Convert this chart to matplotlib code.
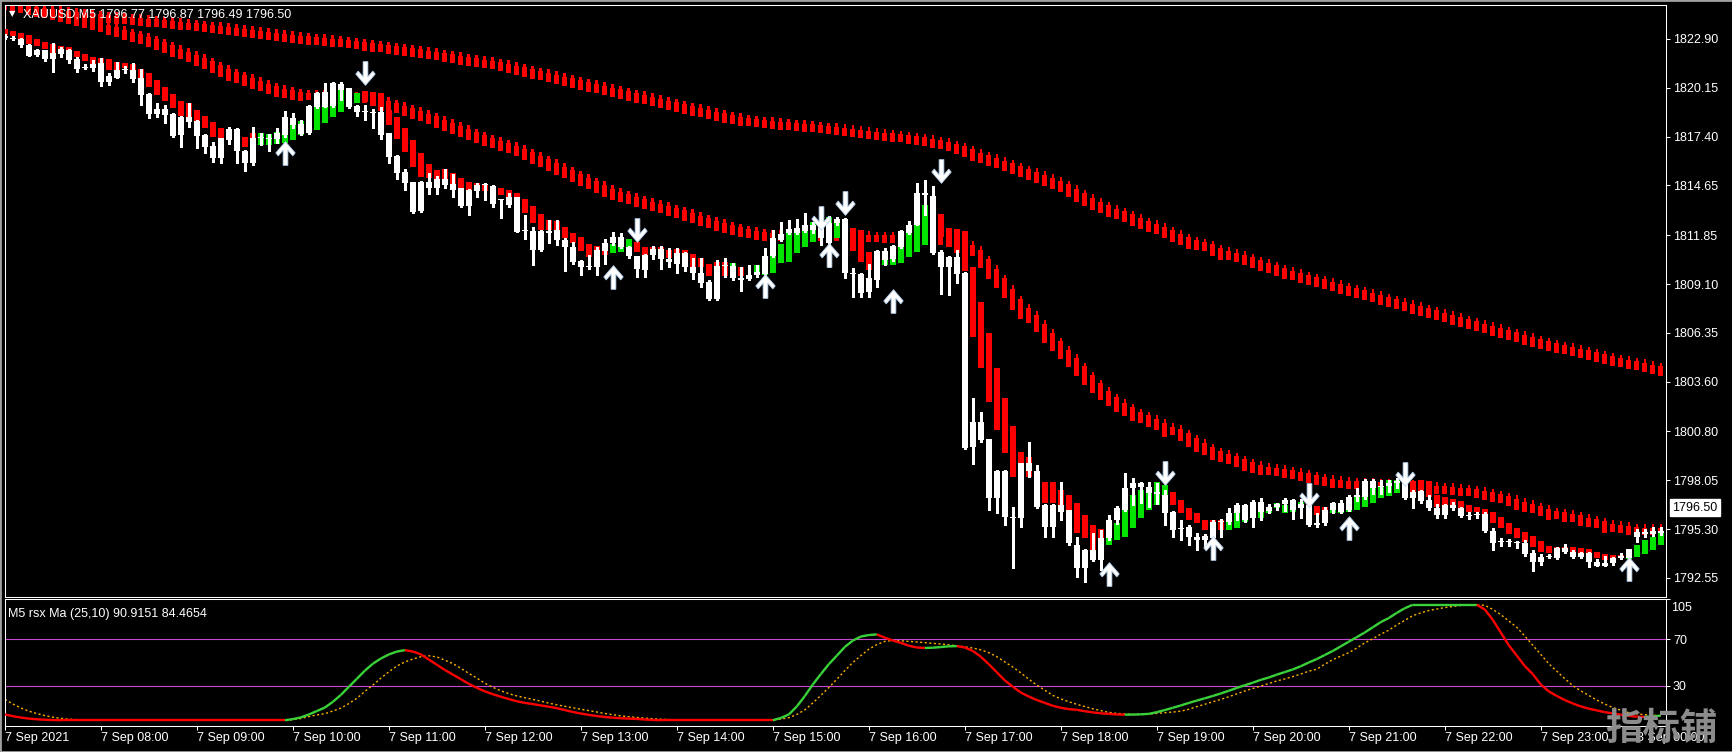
import numpy as np
import matplotlib
matplotlib.use("Agg")
import matplotlib.pyplot as plt
from matplotlib.path import Path
from matplotlib.collections import LineCollection
from matplotlib.patches import Rectangle

plt.rcParams['font.family'] = ['Liberation Sans', 'DejaVu Sans']

# ---- XAUUSD M5 candles, 7 Sep 07:00 onwards ----
open_ = [
    1823.05, 1822.95, 1822.90, 1822.56, 1821.98, 1822.26, 1821.76, 1822.05, 1822.28, 1821.76,
    1821.30, 1821.25, 1821.53, 1820.46, 1820.72, 1821.19, 1821.15, 1820.69, 1819.80, 1818.68,
    1818.98, 1818.68, 1817.50, 1818.53, 1818.30, 1817.50, 1816.88, 1816.18, 1817.21, 1817.85,
    1816.59, 1815.90, 1817.34, 1817.30, 1817.27, 1817.50, 1818.47, 1817.55, 1817.59, 1819.05,
    1819.93, 1819.13, 1820.36, 1820.12, 1819.13, 1818.81, 1818.79, 1818.81, 1817.59, 1816.31,
    1815.43, 1814.83, 1813.23, 1814.87, 1814.49, 1815.00, 1814.74, 1814.49, 1813.50, 1814.34,
    1814.68, 1814.64, 1813.84, 1813.55, 1813.99, 1812.11, 1812.11, 1811.02, 1812.11, 1812.15,
    1811.58, 1811.21, 1810.42, 1810.08, 1810.04, 1810.96, 1811.43, 1811.77, 1811.21, 1810.68,
    1809.89, 1810.74, 1811.06, 1810.49, 1810.23, 1810.87, 1810.08, 1809.74, 1809.20, 1808.26,
    1810.12, 1810.12, 1809.43, 1809.37, 1809.61, 1809.67, 1810.68, 1811.58, 1812.00, 1811.96,
    1812.11, 1812.43, 1812.43, 1811.40, 1812.56, 1812.77, 1809.71, 1809.67, 1808.67, 1809.33,
    1810.98, 1810.49, 1811.21, 1811.96, 1812.43, 1814.20, 1814.06, 1810.93, 1810.04, 1810.64,
    1809.71, 1799.91, 1801.35, 1800.36, 1797.04, 1798.59, 1796.00, 1795.91, 1799.00, 1798.60,
    1796.66, 1795.44, 1796.66, 1796.38, 1794.41, 1793.10, 1794.13, 1793.57, 1794.78, 1795.82,
    1796.38, 1797.60, 1797.88, 1797.70, 1797.30, 1797.20, 1796.29, 1795.30, 1795.44, 1794.88,
    1794.70, 1794.78, 1795.73, 1795.73, 1796.19, 1796.66, 1795.91, 1796.85, 1796.30, 1796.57,
    1796.70, 1796.94, 1796.50, 1796.66, 1795.55, 1795.63, 1796.38, 1796.28, 1796.38, 1797.13,
    1797.13, 1798.01, 1797.70, 1797.73, 1797.90, 1798.07, 1797.41, 1797.45, 1796.94, 1796.47,
    1796.09, 1796.66, 1796.47, 1796.04, 1796.09, 1796.15, 1795.20, 1794.55, 1794.60, 1794.60,
    1794.50, 1793.94, 1793.47, 1793.75, 1793.66, 1794.25, 1794.03, 1793.75, 1793.94, 1793.47,
    1793.25, 1793.37, 1793.70, 1793.66, 1794.87, 1795.16, 1795.00, 1795.20]
high_ = [
    1823.15, 1823.05, 1822.95, 1822.60, 1822.32, 1822.30, 1822.66, 1822.47, 1822.32, 1821.91,
    1821.47, 1821.72, 1821.81, 1821.00, 1821.62, 1821.38, 1821.53, 1821.19, 1819.85, 1819.28,
    1819.18, 1818.75, 1818.56, 1819.28, 1818.32, 1817.52, 1817.12, 1817.33, 1817.96, 1817.87,
    1816.65, 1817.96, 1817.59, 1817.55, 1817.87, 1818.87, 1818.71, 1818.34, 1819.20, 1819.93,
    1820.44, 1820.46, 1820.50, 1820.15, 1819.20, 1819.18, 1818.95, 1819.05, 1817.62, 1816.35,
    1815.56, 1814.85, 1814.90, 1815.34, 1815.19, 1815.56, 1815.30, 1814.52, 1814.45, 1814.81,
    1814.78, 1814.70, 1813.90, 1814.21, 1814.02, 1812.99, 1812.33, 1812.15, 1812.71, 1812.68,
    1811.68, 1811.49, 1810.45, 1810.74, 1811.21, 1811.62, 1812.05, 1812.00, 1811.25, 1810.70,
    1810.80, 1811.25, 1811.25, 1811.11, 1811.11, 1810.90, 1810.55, 1810.55, 1809.30, 1810.45,
    1810.59, 1810.27, 1810.08, 1810.18, 1810.18, 1811.11, 1812.15, 1812.62, 1812.71, 1812.75,
    1813.08, 1812.60, 1813.00, 1812.93, 1812.90, 1812.80, 1809.99, 1809.70, 1810.23, 1811.00,
    1811.11, 1811.30, 1812.15, 1812.67, 1814.77, 1814.96, 1814.62, 1811.00, 1810.70, 1811.02,
    1809.75, 1802.67, 1801.92, 1800.40, 1798.65, 1798.65, 1796.57, 1799.05, 1800.22, 1798.90,
    1796.70, 1796.70, 1797.98, 1796.40, 1794.88, 1794.20, 1795.07, 1795.25, 1796.10, 1796.60,
    1798.45, 1798.16, 1797.98, 1797.98, 1797.90, 1797.50, 1796.30, 1795.82, 1795.54, 1795.07,
    1795.00, 1795.80, 1795.85, 1796.47, 1796.76, 1796.70, 1796.94, 1797.04, 1796.70, 1796.80,
    1797.03, 1797.00, 1797.00, 1796.80, 1796.19, 1796.53, 1796.85, 1796.94, 1797.22, 1797.60,
    1798.10, 1798.10, 1798.07, 1798.07, 1798.20, 1798.16, 1797.50, 1797.50, 1797.22, 1796.70,
    1796.70, 1796.85, 1796.55, 1796.28, 1796.28, 1796.28, 1795.35, 1794.78, 1794.72, 1794.65,
    1794.69, 1794.12, 1793.90, 1793.90, 1794.30, 1794.45, 1794.10, 1794.03, 1794.03, 1793.60,
    1793.80, 1793.75, 1793.94, 1794.20, 1795.30, 1795.30, 1795.44, 1795.40]
low_ = [
    1822.90, 1822.85, 1822.43, 1821.92, 1821.95, 1821.68, 1821.06, 1821.91, 1821.57, 1821.06,
    1821.19, 1821.12, 1820.27, 1820.31, 1820.69, 1821.00, 1820.50, 1819.18, 1818.47, 1818.53,
    1818.19, 1817.40, 1816.84, 1817.96, 1816.74, 1816.46, 1815.99, 1815.94, 1816.99, 1815.94,
    1815.49, 1815.81, 1816.93, 1816.61, 1817.03, 1817.40, 1817.87, 1817.50, 1817.55, 1819.00,
    1819.05, 1819.05, 1819.47, 1819.03, 1818.56, 1818.34, 1817.87, 1817.25, 1815.90, 1815.00,
    1814.40, 1813.12, 1813.15, 1814.17, 1814.17, 1814.49, 1814.02, 1813.42, 1812.99, 1813.99,
    1813.84, 1813.46, 1812.80, 1813.42, 1812.02, 1811.62, 1810.18, 1810.98, 1811.43, 1811.30,
    1809.86, 1810.23, 1809.61, 1809.93, 1809.61, 1810.23, 1811.30, 1811.11, 1810.55, 1809.52,
    1809.52, 1810.49, 1809.93, 1810.08, 1809.74, 1809.86, 1809.37, 1808.92, 1808.22, 1808.22,
    1809.52, 1809.33, 1808.73, 1809.33, 1809.52, 1809.61, 1810.61, 1811.55, 1811.90, 1811.90,
    1812.05, 1812.00, 1811.30, 1810.08, 1812.40, 1809.43, 1808.39, 1808.39, 1808.35, 1808.95,
    1810.17, 1810.40, 1811.15, 1811.90, 1812.40, 1813.00, 1810.80, 1808.54, 1808.49, 1809.18,
    1799.80, 1798.97, 1800.20, 1796.38, 1796.19, 1795.54, 1793.10, 1795.44, 1798.26, 1796.50,
    1794.88, 1794.88, 1795.82, 1794.41, 1792.63, 1792.34, 1793.50, 1793.00, 1794.70, 1795.60,
    1796.30, 1796.66, 1796.76, 1796.57, 1796.70, 1795.54, 1794.88, 1794.69, 1794.41, 1794.13,
    1794.30, 1794.30, 1794.88, 1795.60, 1795.80, 1795.70, 1795.44, 1795.80, 1796.20, 1796.40,
    1796.30, 1795.85, 1795.90, 1795.50, 1795.44, 1795.53, 1796.20, 1796.19, 1796.35, 1796.90,
    1797.00, 1797.30, 1797.30, 1797.40, 1797.60, 1797.00, 1796.47, 1796.80, 1796.38, 1795.95,
    1795.91, 1796.38, 1796.00, 1795.85, 1795.91, 1795.16, 1794.12, 1794.37, 1794.37, 1794.22,
    1793.78, 1792.96, 1793.28, 1793.66, 1793.60, 1793.98, 1793.70, 1793.66, 1793.19, 1793.20,
    1793.20, 1793.28, 1793.60, 1793.60, 1794.59, 1794.87, 1794.90, 1794.95]
close_ = [
    1822.98, 1822.92, 1822.56, 1821.94, 1822.26, 1821.76, 1822.09, 1822.32, 1821.72, 1821.19,
    1821.27, 1821.47, 1820.50, 1820.82, 1821.15, 1821.17, 1820.65, 1819.75, 1818.68, 1818.98,
    1818.62, 1817.46, 1818.53, 1818.25, 1817.46, 1816.84, 1816.22, 1817.31, 1817.85, 1816.59,
    1815.94, 1817.34, 1817.30, 1817.28, 1817.59, 1818.53, 1818.06, 1818.11, 1819.13, 1819.88,
    1819.09, 1820.40, 1820.03, 1819.05, 1818.77, 1818.79, 1818.75, 1817.50, 1816.27, 1815.37,
    1814.81, 1813.18, 1814.87, 1814.49, 1815.00, 1814.68, 1814.40, 1813.50, 1814.40, 1814.68,
    1814.74, 1813.61, 1813.86, 1813.99, 1812.05, 1812.09, 1811.02, 1812.11, 1811.96, 1811.58,
    1811.17, 1810.36, 1810.04, 1810.06, 1811.02, 1811.43, 1811.73, 1811.21, 1810.68, 1809.93,
    1810.74, 1811.06, 1810.49, 1810.36, 1810.87, 1810.04, 1809.71, 1809.14, 1808.26, 1810.12,
    1810.14, 1809.43, 1809.33, 1809.61, 1809.80, 1810.68, 1811.68, 1811.92, 1812.18, 1812.24,
    1812.43, 1812.15, 1811.68, 1812.56, 1812.75, 1809.71, 1809.69, 1808.62, 1809.42, 1810.98,
    1810.46, 1811.24, 1812.11, 1812.43, 1814.25, 1814.12, 1810.83, 1810.04, 1810.64, 1809.67,
    1799.85, 1801.35, 1800.32, 1797.04, 1798.59, 1796.00, 1795.95, 1799.00, 1798.59, 1796.57,
    1795.44, 1796.66, 1796.29, 1794.50, 1793.10, 1794.13, 1793.57, 1794.78, 1795.82, 1796.47,
    1797.60, 1797.88, 1797.70, 1797.32, 1797.40, 1796.19, 1795.25, 1795.35, 1794.88, 1794.69,
    1794.90, 1795.73, 1795.70, 1796.19, 1796.66, 1795.82, 1796.85, 1796.29, 1796.57, 1796.70,
    1796.94, 1796.38, 1796.70, 1795.53, 1795.62, 1796.38, 1796.75, 1796.75, 1797.13, 1797.20,
    1798.01, 1797.60, 1797.73, 1797.90, 1798.00, 1797.05, 1797.05, 1796.90, 1796.47, 1796.09,
    1796.66, 1796.47, 1796.04, 1796.09, 1796.15, 1795.20, 1794.50, 1794.60, 1794.55, 1794.50,
    1793.90, 1793.47, 1793.75, 1793.74, 1794.25, 1794.00, 1793.75, 1793.94, 1793.47, 1793.25,
    1793.40, 1793.70, 1793.80, 1794.17, 1795.16, 1795.00, 1795.20, 1795.10]

# ---- smoothed heiken-ashi overlay bodies ----
ha_open = [
    1823.45, 1823.35, 1823.22, 1823.13, 1822.90, 1822.73, 1822.62, 1822.51, 1822.43, 1822.24,
    1822.06, 1821.87, 1821.81, 1821.76, 1821.62, 1821.57, 1821.49, 1821.19, 1821.00, 1820.59,
    1820.22, 1819.80, 1819.41, 1819.28, 1818.90, 1818.56, 1818.25, 1817.87, 1817.85, 1817.80,
    1817.40, 1817.59, 1816.93, 1816.93, 1816.99, 1817.03, 1817.21, 1817.50, 1817.68, 1817.78,
    1818.15, 1818.49, 1818.81, 1819.37, 1819.28, 1819.97, 1819.93, 1819.88, 1818.90, 1818.49,
    1817.87, 1817.21, 1816.46, 1815.86, 1815.52, 1815.56, 1815.34, 1815.06, 1814.87, 1814.81,
    1814.74, 1814.64, 1814.49, 1814.40, 1814.25, 1813.87, 1813.50, 1813.05, 1812.71, 1812.65,
    1812.30, 1812.00, 1811.77, 1811.36, 1811.25, 1810.98, 1810.83, 1810.93, 1811.21, 1811.49,
    1811.21, 1811.21, 1811.21, 1811.02, 1811.06, 1811.02, 1810.80, 1810.55, 1810.23, 1810.36,
    1810.36, 1810.08, 1810.04, 1809.61, 1809.74, 1809.61, 1809.74, 1810.31, 1810.36, 1810.83,
    1811.17, 1811.49, 1812.15, 1812.52, 1811.68, 1812.70, 1812.24, 1812.15, 1810.93, 1810.00,
    1810.17, 1810.17, 1810.31, 1810.61, 1810.93, 1811.30, 1812.00, 1813.05, 1812.24, 1812.18,
    1812.11, 1810.08, 1808.11, 1806.33, 1804.36, 1802.67, 1801.11, 1799.66, 1799.38, 1798.54,
    1797.98, 1797.98, 1797.51, 1797.22, 1796.76, 1796.10, 1795.54, 1795.30, 1794.41, 1794.69,
    1794.88, 1795.35, 1795.91, 1796.38, 1796.66, 1797.13, 1797.41, 1796.94, 1796.47, 1796.19,
    1795.82, 1795.80, 1795.82, 1795.25, 1795.35, 1795.70, 1795.90, 1795.91, 1796.19, 1796.47,
    1796.23, 1796.28, 1796.47, 1796.85, 1796.60, 1796.53, 1796.19, 1796.22, 1796.26, 1796.38,
    1796.56, 1796.79, 1797.03, 1797.17, 1797.35, 1798.00, 1798.03, 1798.07, 1798.01, 1797.22,
    1797.09, 1796.98, 1796.88, 1796.66, 1796.56, 1796.41, 1796.28, 1796.00, 1795.66, 1795.38,
    1795.16, 1794.91, 1794.65, 1794.35, 1794.31, 1794.31, 1794.27, 1794.22, 1794.16, 1794.03,
    1793.90, 1793.84, 1793.84, 1793.60, 1793.71, 1793.90, 1794.12, 1794.41]
ha_close = [
    1823.13, 1823.07, 1822.90, 1822.62, 1822.51, 1822.32, 1822.09, 1822.32, 1822.24, 1821.91,
    1821.68, 1821.49, 1821.53, 1821.15, 1821.15, 1821.25, 1821.15, 1820.69, 1820.22, 1819.75,
    1819.41, 1819.00, 1818.56, 1818.53, 1818.30, 1817.87, 1817.40, 1817.31, 1817.60, 1817.50,
    1816.84, 1817.34, 1817.59, 1817.55, 1817.68, 1817.50, 1818.06, 1818.30, 1818.71, 1819.05,
    1819.13, 1819.56, 1820.03, 1820.03, 1819.88, 1819.37, 1819.13, 1818.87, 1818.06, 1817.27,
    1816.56, 1815.71, 1815.15, 1815.06, 1815.00, 1815.00, 1814.74, 1814.49, 1814.40, 1814.68,
    1814.36, 1814.30, 1814.12, 1813.99, 1813.99, 1813.08, 1812.52, 1812.15, 1812.15, 1812.15,
    1811.68, 1811.40, 1810.98, 1810.65, 1811.02, 1810.74, 1811.36, 1811.21, 1811.64, 1810.93,
    1810.74, 1811.02, 1811.06, 1810.55, 1810.87, 1810.87, 1810.08, 1810.04, 1809.56, 1810.00,
    1809.56, 1810.27, 1809.56, 1809.37, 1810.18, 1809.80, 1810.68, 1811.36, 1812.00, 1811.96,
    1812.11, 1812.62, 1812.62, 1812.90, 1812.52, 1812.30, 1810.98, 1810.36, 1809.89, 1810.30,
    1810.55, 1810.64, 1811.21, 1811.96, 1812.43, 1813.55, 1813.60, 1811.73, 1811.21, 1810.83,
    1809.86, 1806.14, 1804.36, 1802.48, 1800.88, 1799.61, 1798.22, 1798.35, 1798.26, 1796.57,
    1796.76, 1796.76, 1796.29, 1796.30, 1795.07, 1794.78, 1794.13, 1794.60, 1794.78, 1795.63,
    1796.47, 1797.22, 1797.51, 1797.32, 1797.98, 1797.79, 1796.66, 1796.19, 1795.82, 1795.63,
    1795.25, 1795.30, 1795.25, 1795.73, 1796.19, 1796.00, 1796.00, 1796.29, 1796.57, 1796.76,
    1796.66, 1796.47, 1796.85, 1796.66, 1796.09, 1796.38, 1796.38, 1796.38, 1796.38, 1797.13,
    1797.13, 1797.60, 1797.69, 1798.07, 1798.07, 1797.70, 1797.41, 1797.47, 1797.13, 1796.56,
    1796.60, 1796.60, 1796.47, 1796.28, 1796.28, 1796.15, 1795.63, 1795.34, 1795.02, 1794.78,
    1794.59, 1794.31, 1794.03, 1793.94, 1794.16, 1794.03, 1793.75, 1793.75, 1793.84, 1793.66,
    1793.56, 1793.66, 1793.75, 1793.75, 1794.41, 1794.69, 1794.87, 1795.06]

# ---- the two red dotted moving averages ----
ma_slow = [
    1824.80, 1824.75, 1824.70, 1824.64, 1824.58, 1824.52, 1824.46, 1824.40, 1824.35, 1824.30,
    1824.25, 1824.20, 1824.16, 1824.12, 1824.08, 1824.04, 1824.00, 1823.96, 1823.91, 1823.87,
    1823.83, 1823.78, 1823.74, 1823.70, 1823.65, 1823.60, 1823.55, 1823.50, 1823.44, 1823.38,
    1823.33, 1823.27, 1823.22, 1823.16, 1823.11, 1823.05, 1823.00, 1822.96, 1822.91, 1822.87,
    1822.83, 1822.79, 1822.75, 1822.70, 1822.64, 1822.58, 1822.52, 1822.47, 1822.41, 1822.35,
    1822.29, 1822.23, 1822.17, 1822.10, 1822.03, 1821.95, 1821.88, 1821.80, 1821.73, 1821.66,
    1821.59, 1821.52, 1821.44, 1821.34, 1821.24, 1821.14, 1821.03, 1820.93, 1820.82, 1820.72,
    1820.62, 1820.51, 1820.41, 1820.30, 1820.20, 1820.10, 1819.99, 1819.89, 1819.78, 1819.68,
    1819.58, 1819.47, 1819.37, 1819.26, 1819.16, 1819.06, 1818.95, 1818.85, 1818.75, 1818.65,
    1818.55, 1818.45, 1818.34, 1818.30, 1818.25, 1818.21, 1818.16, 1818.12, 1818.08, 1818.04,
    1818.00, 1817.96, 1817.91, 1817.87, 1817.82, 1817.77, 1817.71, 1817.66, 1817.60, 1817.55,
    1817.50, 1817.45, 1817.40, 1817.34, 1817.28, 1817.21, 1817.13, 1817.04, 1816.93, 1816.80,
    1816.65, 1816.45, 1816.30, 1816.15, 1816.00, 1815.85, 1815.70, 1815.53, 1815.37, 1815.20,
    1815.03, 1814.87, 1814.70, 1814.45, 1814.20, 1813.95, 1813.70, 1813.50, 1813.30, 1813.15,
    1813.00, 1812.80, 1812.60, 1812.45, 1812.30, 1812.10, 1811.90, 1811.70, 1811.50, 1811.40,
    1811.30, 1811.10, 1810.90, 1810.80, 1810.70, 1810.55, 1810.40, 1810.25, 1810.10, 1809.95,
    1809.80, 1809.68, 1809.55, 1809.43, 1809.30, 1809.18, 1809.06, 1808.93, 1808.81, 1808.68,
    1808.56, 1808.44, 1808.31, 1808.19, 1808.06, 1807.94, 1807.81, 1807.69, 1807.57, 1807.44,
    1807.32, 1807.19, 1807.07, 1806.95, 1806.82, 1806.70, 1806.57, 1806.45, 1806.32, 1806.20,
    1806.07, 1805.95, 1805.82, 1805.70, 1805.60, 1805.50, 1805.40, 1805.30, 1805.19, 1805.08,
    1804.97, 1804.85, 1804.77, 1804.68, 1804.60, 1804.50, 1804.40, 1804.30]
ma_mid = [
    1824.95, 1824.85, 1824.74, 1824.63, 1824.52, 1824.42, 1824.31, 1824.20, 1824.10, 1824.00,
    1823.90, 1823.79, 1823.65, 1823.51, 1823.37, 1823.22, 1823.10, 1822.98, 1822.85, 1822.67,
    1822.50, 1822.32, 1822.15, 1821.98, 1821.80, 1821.63, 1821.41, 1821.19, 1820.97, 1820.81,
    1820.66, 1820.50, 1820.34, 1820.19, 1820.03, 1819.93, 1819.84, 1819.75, 1819.74, 1819.72,
    1819.71, 1819.70, 1819.68, 1819.65, 1819.63, 1819.60, 1819.48, 1819.35, 1819.23, 1819.10,
    1818.95, 1818.80, 1818.65, 1818.50, 1818.32, 1818.14, 1817.96, 1817.79, 1817.62, 1817.45,
    1817.27, 1817.13, 1816.98, 1816.84, 1816.69, 1816.49, 1816.30, 1816.10, 1815.90, 1815.69,
    1815.48, 1815.27, 1815.06, 1814.86, 1814.66, 1814.45, 1814.25, 1814.11, 1813.97, 1813.83,
    1813.69, 1813.57, 1813.45, 1813.32, 1813.20, 1813.05, 1812.91, 1812.76, 1812.62, 1812.49,
    1812.36, 1812.24, 1812.11, 1812.03, 1811.95, 1811.87, 1811.85, 1811.84, 1811.84, 1811.83,
    1811.83, 1811.82, 1811.82, 1811.82, 1811.82, 1811.82, 1811.80, 1811.78, 1811.76, 1811.75,
    1811.74, 1811.73, 1811.72, 1811.72, 1811.72, 1811.70, 1811.68, 1811.62, 1811.55, 1811.45,
    1811.30, 1811.09, 1810.61, 1810.04, 1809.52, 1808.96, 1808.35, 1807.79, 1807.42, 1806.97,
    1806.42, 1805.95, 1805.48, 1805.01, 1804.54, 1804.04, 1803.57, 1803.14, 1802.76, 1802.42,
    1802.16, 1801.86, 1801.67, 1801.48, 1801.30, 1800.98, 1800.92, 1800.70, 1800.42, 1800.13,
    1799.91, 1799.66, 1799.48, 1799.35, 1799.20, 1799.01, 1798.86, 1798.73, 1798.67, 1798.63,
    1798.54, 1798.46, 1798.37, 1798.27, 1798.16, 1798.07, 1797.99, 1797.95, 1797.90, 1797.88,
    1797.88, 1797.86, 1797.84, 1797.78, 1797.78, 1797.75, 1797.75, 1797.73, 1797.65, 1797.61,
    1797.60, 1797.56, 1797.50, 1797.48, 1797.39, 1797.30, 1797.20, 1797.11, 1796.98, 1796.79,
    1796.66, 1796.55, 1796.41, 1796.23, 1796.19, 1796.09, 1796.04, 1795.87, 1795.79, 1795.70,
    1795.51, 1795.46, 1795.42, 1795.34, 1795.27, 1795.27, 1795.27, 1795.27]

# ---- signal arrows: bar index and tip price ----
down_idx = [45, 79, 102, 105, 117, 145, 163, 175]
down_tip = [1820.31, 1811.47, 1812.15, 1812.99, 1814.79, 1797.79, 1796.55, 1797.73]
up_idx = [35, 76, 95, 103, 111, 138, 151, 168, 203]
up_tip = [1817.12, 1810.12, 1809.61, 1811.41, 1808.77, 1793.40, 1794.86, 1796.04, 1793.73]

# ---- rsx Ma (25,10) sub window ----
rsx = ([5.0, 3.5, 2.3, 1.4, 0.8, 0.4, 0.2] + [0.0] * 29 +
       [1.0, 2.5, 5.0, 8.0, 11.0, 16.0, 22.0, 29.0, 36.0, 43.0, 49.0, 53.5, 57.0, 59.5, 60.7,
        59.5, 57.0, 52.5, 48.0, 43.5, 39.5, 35.5, 31.5, 28.0, 25.0, 22.5, 20.3, 18.3, 16.4, 15.0,
        14.0, 12.8, 11.7, 10.4, 8.8, 7.1, 5.8, 4.6, 3.6, 2.8, 2.2, 1.7, 1.4, 1.1, 0.6, 0.2] +
       [0.0] * 15 +
       [2.0, 5.0, 12.0, 21.0, 31.0, 40.0, 48.6, 56.0, 63.5, 69.0, 72.5, 73.8, 74.3,
        71.5, 69.0, 67.0, 64.5, 63.0, 62.6, 62.8, 63.4, 64.0, 64.2, 63.0, 60.0,
        55.0, 48.5, 41.5, 34.5, 29.0, 24.0, 20.5, 17.5, 15.0, 12.5, 10.8, 9.6, 9.0, 7.8, 6.8,
        6.0, 5.5, 5.0, 4.8, 4.9,
        5.1, 5.5, 7.0, 8.8, 10.8, 12.8, 15.0, 17.0, 19.0, 21.0, 23.2, 25.5, 28.0, 30.3, 32.5,
        35.0, 37.0, 39.5, 41.7, 44.0, 46.8, 50.0, 53.0, 56.5, 60.0, 64.0, 68.0, 72.0, 76.0, 80.5,
        85.0, 88.5, 93.0, 97.0, 100.0] +
       [100.0] * 8 +
       [96.0, 87.0, 76.0, 65.0, 56.0, 47.0, 40.0, 31.0, 25.0, 21.0, 17.5, 14.5, 12.0, 10.0, 8.5,
        7.0, 5.9, 4.8, 3.8, 3.1, 2.9, 3.3, 4.0])
rsx_signal = ([18.0, 14.0, 10.5, 7.8, 5.7, 4.0, 2.6, 1.6, 0.9, 0.5, 0.3, 0.1] + [0.0] * 24 +
              [0.5, 1.5, 3.2, 4.6, 5.7, 8.0, 10.5, 14.5, 19.0, 25.0, 30.5, 36.5, 42.0, 47.0, 50.5,
               53.0, 55.0, 55.8, 54.8, 52.0, 49.0, 45.0, 40.5, 36.5, 32.0, 28.5, 25.5, 23.0, 21.0,
               19.5, 18.0, 16.5, 14.8, 13.3, 12.0, 10.8, 9.5, 8.3, 7.1, 5.8, 4.8, 3.8, 3.0, 2.4,
               1.8, 1.3, 0.9, 0.6] +
              [0.3] * 13 +
              [1.0, 2.2, 5.0, 9.0, 15.0, 21.5, 28.3, 35.5, 43.0, 50.0, 56.0, 61.5, 65.5, 68.3, 69.0,
               68.8, 68.3, 67.8, 67.2, 66.6, 66.0, 65.3, 64.5, 63.6, 62.5, 61.0, 58.5, 55.0, 50.5,
               46.0, 41.0, 35.5, 30.5, 26.0, 21.5, 18.5, 16.0, 13.8, 11.8, 9.9, 8.3, 6.8, 5.9, 5.4,
               5.1,
               5.1, 5.4, 5.9, 6.5, 7.1, 7.8, 9.5, 11.8, 13.8, 16.0, 18.0, 20.3, 22.8, 25.3, 27.5,
               29.8, 31.8, 34.0, 35.8, 37.8, 40.0, 42.5, 44.2, 48.5, 52.5, 55.5, 58.5, 62.5, 67.0,
               70.5, 74.5, 78.0, 82.5, 86.5, 90.5, 93.0, 95.0, 96.3, 97.6, 98.5, 99.4, 99.9, 99.9,
               99.6, 96.0, 91.5, 86.0, 80.5, 73.0, 65.0, 57.0, 49.0, 42.5, 36.0, 30.0, 25.5, 21.5,
               17.5, 14.0, 11.0, 8.7, 6.5, 5.5, 4.8, 4.3, 4.0])
rsx_levels = [70, 30]

price_ticks = [1822.90, 1820.15, 1817.40, 1814.65, 1811.85, 1809.10,
               1806.35, 1803.60, 1800.80, 1798.05, 1795.30, 1792.55]
time_ticks = list(range(0, 205, 12))
time_labels = ['7 Sep 2021', '7 Sep 08:00', '7 Sep 09:00', '7 Sep 10:00', '7 Sep 11:00',
               '7 Sep 12:00', '7 Sep 13:00', '7 Sep 14:00', '7 Sep 15:00', '7 Sep 16:00',
               '7 Sep 17:00', '7 Sep 18:00', '7 Sep 19:00', '7 Sep 20:00', '7 Sep 21:00',
               '7 Sep 22:00', '7 Sep 23:00', '8 Sep 00:00']
last_price = 1796.50
title = 'XAUUSD,M5 1796.77 1796.87 1796.49 1796.50'
sub_title = 'M5 rsx Ma (25,10) 90.9151 84.4654'

# ---------------------------------------------------------------
W, H = 1733, 752
RED = '#ff0000'
GREEN = '#00e400'
LINE_GREEN = '#3ad23a'
n = len(close_)
xs = np.arange(n)

fig = plt.figure(figsize=(W / 100, H / 100), dpi=100, facecolor='black')
ax = fig.add_axes([5 / W, 1 - 597 / H, 1661 / W, 592 / H], facecolor='black')
ax2 = fig.add_axes([5 / W, 1 - 726 / H, 1661 / W, 127 / H], facecolor='black')

y_lo, y_hi = 1791.48, 1824.81
ax.set_ylim(y_lo, y_hi)
for a in (ax, ax2):
    a.set_xlim(0.04, 207.66)
ax2.set_ylim(-5, 105)
px = 592 / (y_hi - y_lo)   # pixels per price unit


def ma_dots(vals):
    v = np.asarray(vals)
    d = np.abs(np.diff(v, prepend=v[0]))
    body = 7 / px + 1.3 * d
    thin = 3.5 / px
    bot = v - (body + thin) / 2
    ax.bar(xs, body, bottom=bot, width=0.66, color=RED, linewidth=0,
           antialiased=False, zorder=2)
    ax.bar(xs, thin, bottom=bot + body, width=0.3, color=RED, linewidth=0,
           antialiased=False, zorder=2)


ma_dots(ma_slow)
ma_dots(ma_mid)

# heiken ashi bodies
ho = np.asarray(ha_open)
hc = np.asarray(ha_close)
ha_cols = np.where(hc > ho, GREEN, RED)
ax.bar(xs, np.maximum(np.abs(hc - ho), 1 / px), bottom=np.minimum(ho, hc), width=0.72,
       color=ha_cols, linewidth=0, antialiased=False, zorder=3)

# candles (all drawn white)
o = np.asarray(open_)
c = np.asarray(close_)
ax.vlines(xs, low_, high_, color='white', linewidth=0.75, antialiased=False, zorder=4)
ax.bar(xs, np.maximum(np.abs(c - o), 1 / px), bottom=np.minimum(o, c), width=0.72,
       color='white', linewidth=0, antialiased=False, zorder=5)

# arrows
dv = [(-0.2, 1), (0.2, 1), (0.2, -0.28), (0.62, 0.2), (0.82, -0.05), (0, -1),
      (-0.82, -0.05), (-0.62, 0.2), (-0.2, -0.28), (-0.2, 1)]
codes = [Path.MOVETO] + [Path.LINETO] * (len(dv) - 2) + [Path.CLOSEPOLY]
down_marker = Path(dv, codes)
up_marker = Path([(a, -b) for a, b in dv], codes)
half = 11.5 / px
ax.plot(down_idx, np.asarray(down_tip) + half, ls='none', marker=down_marker, ms=17,
        mfc='white', mec='#b8d4f4', mew=0.6, zorder=6)
ax.plot(up_idx, np.asarray(up_tip) - half, ls='none', marker=up_marker, ms=17,
        mfc='white', mec='#b8d4f4', mew=0.6, zorder=6)

# rsx window
for lv in rsx_levels:
    ax2.axhline(lv, color='#c848d0', linewidth=0.8, zorder=1)
ax2.plot(xs, rsx_signal, color='#ffb000', linewidth=1.0, ls=(0, (1.5, 1.8)), zorder=2)
rv = np.asarray(rsx)
seg_cols = []
state = RED
for i in range(1, n):
    if rv[i] > rv[i - 1]:
        state = LINE_GREEN
    elif rv[i] < rv[i - 1]:
        state = RED
    seg_cols.append(state)
segs = np.stack([np.column_stack([xs[:-1], rv[:-1]]),
                 np.column_stack([xs[1:], rv[1:]])], axis=1)
ax2.add_collection(LineCollection(segs, colors=seg_cols, linewidths=1.7, zorder=3))

# axes styling
for a in (ax, ax2):
    for sp in a.spines.values():
        sp.set_color('white')
        sp.set_linewidth(0.75)
    a.yaxis.tick_right()

ax.set_yticks(price_ticks)
ax.set_yticklabels([f'{p:.2f}' for p in price_ticks])
ax.tick_params(axis='y', direction='out', length=3, width=0.75, colors='white',
               labelsize=9, pad=2)
ax.tick_params(axis='x', bottom=False, labelbottom=False)

ax2.set_yticks([105, 70, 30])
ax2.set_yticklabels(['', '70', '30'])
ax2.tick_params(axis='y', direction='out', length=3, width=0.75, colors='white',
                labelsize=9, pad=2)
ax2.annotate('105', xy=(1, 105), xycoords=('axes fraction', 'data'), xytext=(3.6, -6.5),
             textcoords='offset points', color='white', fontsize=9, va='center', ha='left')
ax2.set_xticks(time_ticks)
ax2.set_xticklabels(time_labels, ha='left')
ax2.tick_params(axis='x', direction='out', length=3, width=0.75, colors='white',
                labelsize=9, pad=1.5)

# current price box
ax.annotate(f'{last_price:.2f}', xy=(1, last_price), xycoords=('axes fraction', 'data'),
            xytext=(4.5, 0), textcoords='offset points', color='black', fontsize=9,
            va='center', ha='left',
            bbox=dict(boxstyle='square,pad=0.2', fc='white', ec='white'), zorder=10)

# header texts
fig.text(12.5 / W, 1 - 14 / H, '\u25bc', color='white', fontsize=6, ha='center',
         va='center', family=['DejaVu Sans'])
fig.text(23 / W, 1 - 14.5 / H, title, color='white', fontsize=9, va='center', ha='left')
fig.text(8 / W, 1 - 614 / H, sub_title, color='white', fontsize=9, va='center', ha='left')

# site watermark (sits over the last time label, as in the source picture)
fig.text(1661 / W, 1 - 728 / H, '指标铺', family=['Noto Sans CJK SC', 'DejaVu Sans'],
         fontsize=27, fontweight='bold', color='#8c8c8c', ha='center', va='center')

fig.add_artist(Rectangle((0, 0), 1, 1, transform=fig.transFigure, fill=False,
                         edgecolor='#a0a0a0', linewidth=2))

fig.savefig('out.png', dpi=100, facecolor='black')
